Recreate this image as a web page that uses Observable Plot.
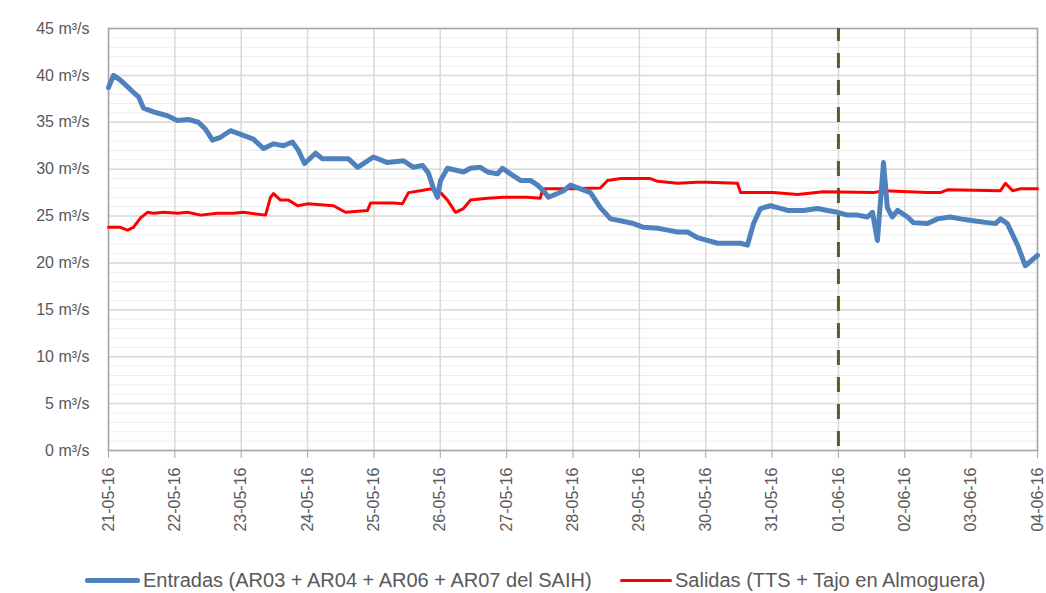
<!DOCTYPE html>
<html>
<head>
<meta charset="utf-8">
<script src="https://cdn.jsdelivr.net/npm/d3@7"></script>
<script src="https://cdn.jsdelivr.net/npm/@observablehq/plot@0.6"></script>
<style>
  body { margin: 0; background: #fff; font-family: "Liberation Sans", Arial, sans-serif; }
  #wrap { position: relative; width: 1046px; height: 593px; }
  #legend { position: absolute; top: 568px; left: 0; width: 1046px; height: 24px; font-size: 20px; color: #595959; }
  .item { position: absolute; top: 0; display: flex; align-items: center; height: 24px; white-space: nowrap; }
  .sw { display: inline-block; margin-right: 3px; }
</style>
</head>
<body>
<div id="wrap">
  <div id="chart"></div>
  <div id="legend"></div>
</div>
<script>
// Hours since 21-05-16 00:00 and flow (m³/s)
const entradasHours = [0,1.8,4.3,9.0,10.9,12.7,16.3,21.3,24.9,28.9,32.5,35.0,37.6,40.5,44.1,48.8,52.4,56.1,59.7,63.3,66.5,68.7,70.9,74.9,77.4,83.9,86.8,90.1,92.2,95.8,100.9,106.7,110.3,113.6,115.7,117.5,119.0,120.1,122.6,128.4,130.9,134.5,137.1,140.7,142.5,145.4,149.0,152.6,155.2,157.3,159.1,162.4,164.6,167.1,170.7,174.3,177.9,181.6,185.2,189.9,193.5,198.6,202.2,205.8,209.4,213.0,216.6,220.3,225.0,228.6,231.1,233.3,235.8,239.4,242.0,245.6,251.4,256.4,260.0,263.7,267.3,270.9,274.5,276.3,278.1,280.3,281.7,283.5,285.4,289.0,291.1,296.2,299.8,304.5,308.1,312.8,317.9,320.8,322.6,325.1,328.8,331.6,336.0];
const entradasValues = [38.7,40.0,39.5,38.2,37.7,36.5,36.1,35.7,35.2,35.3,35.0,34.3,33.1,33.4,34.1,33.6,33.2,32.2,32.7,32.5,32.9,32.0,30.6,31.7,31.1,31.1,31.1,30.2,30.6,31.3,30.7,30.9,30.2,30.4,29.6,28.0,27.0,28.8,30.1,29.7,30.1,30.2,29.7,29.5,30.1,29.5,28.8,28.8,28.3,27.7,27.0,27.4,27.7,28.3,27.9,27.5,25.9,24.7,24.5,24.2,23.8,23.7,23.5,23.3,23.3,22.7,22.4,22.1,22.1,22.1,21.9,24.2,25.8,26.1,25.9,25.6,25.6,25.8,25.6,25.4,25.1,25.1,24.9,25.4,22.4,30.7,25.9,24.9,25.6,24.9,24.3,24.2,24.7,24.9,24.7,24.5,24.3,24.2,24.7,24.2,21.9,19.7,20.8];

const salidasHours = [0,4.3,6.9,9.0,11.6,14.1,16.3,19.9,25.0,28.6,33.3,39.4,45.2,48.8,56.8,58.6,59.7,62.2,65.1,68.4,72.0,81.4,85.7,93.7,94.8,103.1,106.3,108.5,112.8,116.5,120.1,122.6,125.5,128.4,130.9,137.1,142.9,151.5,156.2,157.0,167.1,177.9,180.5,185.2,196.0,198.6,205.8,213.0,216.6,227.5,228.6,240.5,249.2,258.6,276.7,280.3,296.2,300.9,303.4,322.6,324.4,327.0,329.8,336.0];
const salidasValues = [23.8,23.8,23.5,23.8,24.8,25.4,25.3,25.4,25.3,25.4,25.1,25.3,25.3,25.4,25.1,27.0,27.4,26.7,26.7,26.1,26.3,26.1,25.4,25.6,26.4,26.4,26.3,27.5,27.7,27.9,27.5,26.7,25.4,25.8,26.7,26.9,27.0,27.0,26.9,27.9,27.9,28.0,28.8,29.0,29.0,28.7,28.5,28.6,28.6,28.5,27.5,27.5,27.3,27.6,27.5,27.7,27.5,27.5,27.8,27.7,28.5,27.7,27.9,27.9];

const yTicks = [0,5,10,15,20,25,30,35,40,45];
const dayLabels = ["21-05-16","22-05-16","23-05-16","24-05-16","25-05-16","26-05-16","27-05-16","28-05-16","29-05-16","30-05-16","31-05-16","01-06-16","02-06-16","03-06-16","04-06-16"];
const markerDay = "01-06-16";
const seriesNames = ["Entradas (AR03 + AR04 + AR06 + AR07 del SAIH)", "Salidas (TTS + Tajo en Almoguera)"];
const seriesColors = ["#4f81bd", "#ff0000"];

const parseDay = d3.utcParse("%d-%m-%y");
const base = parseDay(dayLabels[0]);
const toDate = h => new Date(base.getTime() + h * 3600e3);
const days = dayLabels.map(parseDay);
const entradas = entradasHours.map((h, i) => ({date: toDate(h), value: entradasValues[i]}));
const salidas = salidasHours.map((h, i) => ({date: toDate(h), value: salidasValues[i]}));

const chart = Plot.plot({
  width: 1046,
  height: 548,
  marginLeft: 108,
  marginRight: 9,
  marginTop: 28,
  marginBottom: 98,
  style: {fontFamily: "'Liberation Sans', Arial, sans-serif", fontSize: "16px", background: "#fff"},
  x: {type: "utc", domain: [days[0], days[days.length - 1]]},
  y: {domain: [0, 45]},
  marks: [
    Plot.ruleY(d3.range(0, 46, 1), {stroke: "#ececec", strokeWidth: 1}),
    Plot.ruleY(yTicks, {stroke: "#d9d9d9", strokeWidth: 1.5}),
    Plot.ruleX(days, {stroke: "#d9d9d9", strokeWidth: 1.5}),
    Plot.frame({stroke: "#a6a6a6", strokeWidth: 1.5}),
    Plot.axisY({ticks: yTicks, tickSize: 0, tickPadding: 19, tickFormat: d => `${d} m³/s`, fill: "#595959", fontSize: 16, label: null}),
    Plot.axisX({ticks: days, tickSize: 8, tickPadding: 9, tickRotate: -90, tickFormat: d3.utcFormat("%d-%m-%y"), stroke: "#a6a6a6", fill: "#595959", fontSize: 16, label: null}),
    Plot.ruleX([parseDay(markerDay)], {y1: 0, y2: 45, stroke: "#4f6228", strokeWidth: 3, strokeDasharray: "15,12", strokeDashoffset: -4}),
    Plot.line(salidas, {x: "date", y: "value", stroke: seriesColors[1], strokeWidth: 3, curve: "linear"}),
    Plot.line(entradas, {x: "date", y: "value", stroke: seriesColors[0], strokeWidth: 5, curve: "linear"})
  ]
});
document.getElementById("chart").appendChild(chart);

const legend = document.getElementById("legend");
const legendSpecs = [
  {left: 85, sw: 55, h: 5},
  {left: 620, sw: 52, h: 3}
];
seriesNames.forEach((name, i) => {
  const it = document.createElement("div");
  it.className = "item";
  it.style.left = legendSpecs[i].left + "px";
  const sw = document.createElement("span");
  sw.className = "sw";
  sw.style.width = legendSpecs[i].sw + "px";
  sw.style.height = legendSpecs[i].h + "px";
  sw.style.background = seriesColors[i];
  sw.style.borderRadius = "2px";
  const tx = document.createElement("span");
  tx.textContent = name;
  it.appendChild(sw);
  it.appendChild(tx);
  legend.appendChild(it);
});
</script>
</body>
</html>
